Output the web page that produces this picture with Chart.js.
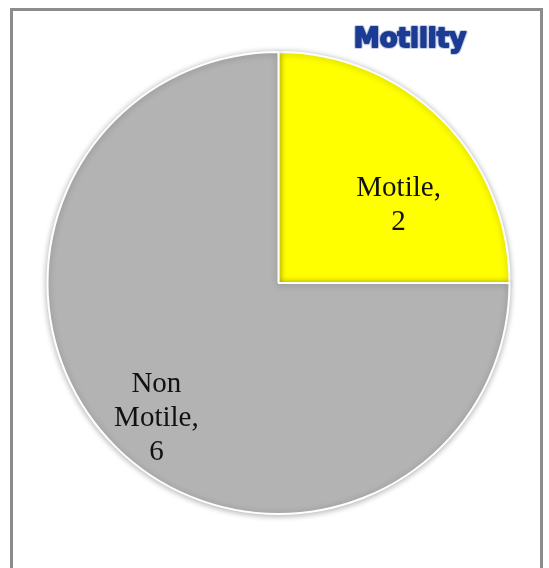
<!DOCTYPE html>
<html>
<head>
<meta charset="utf-8">
<script src="https://cdn.jsdelivr.net/npm/chart.js@4/dist/chart.umd.min.js"></script>
<style>
  html, body { margin: 0; padding: 0; background: #fff; overflow: hidden; }
  #frame {
    position: absolute; left: 10px; top: 8px;
    width: 527px; height: 600px;
    border: 3px solid #8c8c8c; border-bottom: none;
    background: #fff;
  }
  #pieChart { position: absolute; left: 0; top: 0; }
</style>
</head>
<body>
<div id="frame"></div>
<canvas id="pieChart" width="549" height="568"></canvas>
<script>
// Motility counts
const categories = ['Motile', 'Non Motile'];
const counts = [2, 6];
const sliceColors = ['#ffff00', '#b3b3b3'];

// label placement per slice: [angle shift from slice middle (deg), fraction of radius]
const labelPlacement = [[12, 0.62], [-3, 0.79]];

// data labels: category words on separate lines, then the count
const dataLabels = {
  id: 'dataLabels',
  afterDatasetsDraw(chart) {
    const ctx = chart.ctx;
    const meta = chart.getDatasetMeta(0);
    ctx.save();
    ctx.fillStyle = '#111';
    ctx.font = '29px "Liberation Serif", "Times New Roman", serif';
    ctx.textAlign = 'center';
    ctx.textBaseline = 'middle';
    meta.data.forEach((arc, i) => {
      const p = arc.getProps(['x', 'y', 'startAngle', 'endAngle', 'outerRadius'], true);
      const mid = (p.startAngle + p.endAngle) / 2 + labelPlacement[i][0] * Math.PI / 180;
      const r = p.outerRadius * labelPlacement[i][1];
      const cx = p.x + Math.cos(mid) * r;
      const cy = p.y + Math.sin(mid) * r;
      const words = categories[i].split(' ');
      words[words.length - 1] += ',';
      const lines = words.concat(String(counts[i]));
      const lh = 34;
      lines.forEach((line, k) => {
        ctx.fillText(line, cx, cy + (k - (lines.length - 1) / 2) * lh);
      });
    });
    ctx.restore();
  }
};

// soft shadow round the pie edge
const pieShadow = {
  id: 'pieShadow',
  beforeDatasetsDraw(chart) {
    chart.ctx.save();
    chart.ctx.shadowColor = 'rgba(0, 0, 0, 0.3)';
    chart.ctx.shadowBlur = 6;
    chart.ctx.shadowOffsetY = 1;
  },
  afterDatasetsDraw(chart) {
    chart.ctx.restore();
  }
};

// heading in the top right corner
const heading = {
  id: 'heading',
  afterDraw(chart) {
    const ctx = chart.ctx;
    ctx.save();
    ctx.font = 'bold 26px "DejaVu Sans", sans-serif';
    ctx.textAlign = 'center';
    ctx.textBaseline = 'alphabetic';
    ctx.lineJoin = 'round';
    ctx.strokeStyle = 'rgba(160, 175, 210, 0.6)';
    ctx.lineWidth = 4;
    ctx.strokeText('Motility', 410, 47);
    ctx.fillStyle = '#1b3c92';
    ctx.strokeStyle = '#1b3c92';
    ctx.lineWidth = 1.8;
    ctx.strokeText('Motility', 410, 47);
    ctx.fillText('Motility', 410, 47);
    ctx.restore();
  }
};

const pieCtx = document.getElementById('pieChart').getContext('2d');
const pieChart = new Chart(pieCtx, {
  type: 'pie',
  data: {
    labels: categories,
    datasets: [{
      data: counts,
      backgroundColor: sliceColors,
      borderColor: '#ffffff',
      borderWidth: 2,
    }],
  },
  options: {
    responsive: false,
    animation: false,
    layout: {
      padding: { left: 46, right: 38, top: 51, bottom: 53 },
    },
    plugins: {
      legend: { display: false },
      tooltip: { enabled: false },
    },
  },
  plugins: [pieShadow, dataLabels, heading],
});
</script>
</body>
</html>
